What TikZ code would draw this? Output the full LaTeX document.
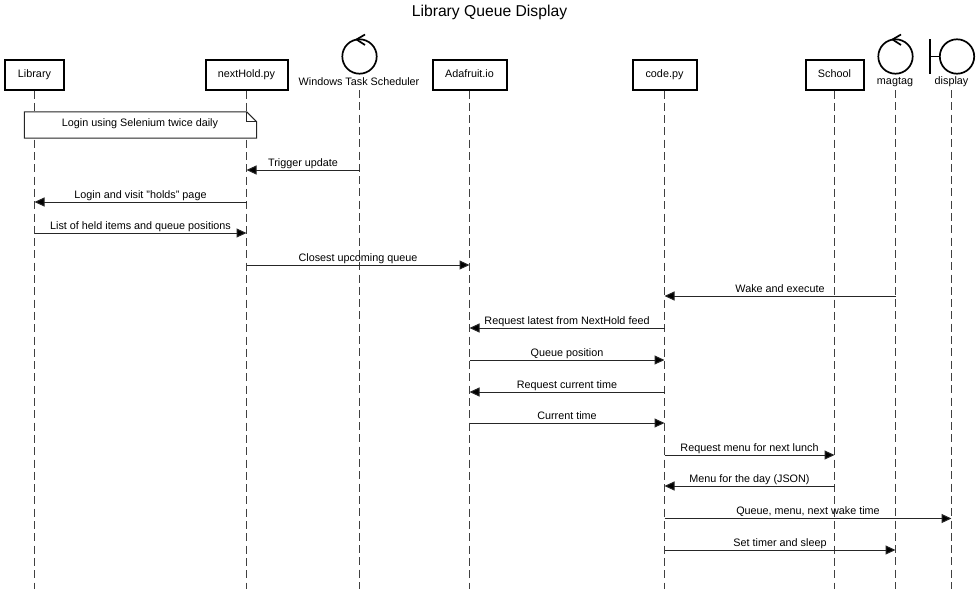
\documentclass[tikz,border=0pt]{standalone}
\usepackage{fontspec}
\setmainfont{Liberation Sans}
\usetikzlibrary{arrows.meta}
\tikzset{
  x=1pt,y=-1pt,
  txt/.style={font=\fontsize{10.8}{12}\selectfont,inner sep=0pt,text=black},
  actorbox/.style={draw=black,line width=2pt,fill=white,txt,text height=8pt,text depth=2.3pt,minimum height=30pt,inner sep=0pt,anchor=center},
  lifeline/.style={draw=black!75,line width=1pt,dash pattern=on 8pt off 4.3pt},
  ring/.style={draw=black,line width=1.7pt},
  msg/.style={draw=black!85,line width=1pt,-{Triangle[length=10pt,width=9pt,fill=black]}},
  lab/.style={txt,above=1pt,text height=8pt,text depth=2.3pt},
  notebox/.style={draw=black!85,line width=1pt,fill=white},
}
\newcommand{\msgline}[4]{\draw[msg] (#1 |- 0,#3) -- node[lab] {#4} (#2 |- 0,#3);}
\begin{document}
\begin{tikzpicture}
\useasboundingbox (0,0) rectangle (977,589);
\node[font=\fontsize{15.7}{18}\selectfont,inner sep=0pt] (title) at (489.5,12) {Library Queue Display};
% participants
\node[actorbox,minimum width=59pt] (lib) at (34.5,74.5) {Library};
\node[actorbox,minimum width=82pt] (nh) at (246.5,74.5) {nextHold.py};
\coordinate (wts) at (359.5,90);
\node[actorbox,minimum width=74pt] (ada) at (469.5,74.5) {Adafruit.io};
\node[actorbox,minimum width=64pt] (code) at (664.5,74.5) {code.py};
\node[actorbox,minimum width=58pt] (sch) at (834.5,74.5) {School};
\coordinate (mag) at (895.5,90);
\coordinate (dsp) at (951.5,90);
\node[txt] (wtslabel) at (359,82) {Windows Task Scheduler};
\node[txt] (maglabel) at (895,82) {magtag};
\node[txt] (dsplabel) at (951.5,82) {display};
% lifelines
\foreach \n in {lib,nh,ada,code,sch}{\draw[lifeline] (\n.south) -- (\n.south |- 0,589);}
\foreach \n in {wts,mag,dsp}{\draw[lifeline] (\n) -- (\n |- 0,589);}
% control symbols
\foreach \c in {359.5,895.5}{
  \draw[ring] (\c,56.5) circle (17.2);
  \draw[ring] (\c+5.5,34.5) -- (\c-3,39.5) -- (\c+5.5,45);
}
% boundary symbol
\draw[ring] (957,56.5) circle (17.2);
\draw[ring] (930,39) -- (930,74);
\draw[ring] (930,56.5) -- (940,56.5);
% note
\node[inner sep=0pt,minimum width=232pt,minimum height=26pt] (note) at (140.5,125) {};
\draw[notebox] (note.north west) -- ([xshift=-10pt]note.north east) -- ([yshift=-10pt]note.north east) -- (note.south east) -- (note.south west) -- cycle;
\draw[notebox,fill=none] ([xshift=-10pt]note.north east) -- ([xshift=-10pt,yshift=-10pt]note.north east) -- ([yshift=-10pt]note.north east);
\node[txt] (notetext) at (140,124) {Login using Selenium twice daily};
% messages
\msgline{wts}{nh.south}{170}{Trigger update}
\msgline{nh.south}{lib.south}{202}{Login and visit "holds" page}
\msgline{lib.south}{nh.south}{233}{List of held items and queue positions}
\msgline{nh.south}{ada.south}{265}{Closest upcoming queue}
\msgline{mag}{code.south}{296}{Wake and execute}
\msgline{code.south}{ada.south}{328}{Request latest from NextHold feed}
\msgline{ada.south}{code.south}{360}{Queue position}
\msgline{code.south}{ada.south}{392}{Request current time}
\msgline{ada.south}{code.south}{423}{Current time}
\msgline{code.south}{sch.south}{455}{Request menu for next lunch}
\msgline{sch.south}{code.south}{486}{Menu for the day (JSON)}
\msgline{code.south}{dsp}{518.5}{Queue, menu, next wake time}
\msgline{code.south}{mag}{550}{Set timer and sleep}
\end{tikzpicture}
\end{document}
